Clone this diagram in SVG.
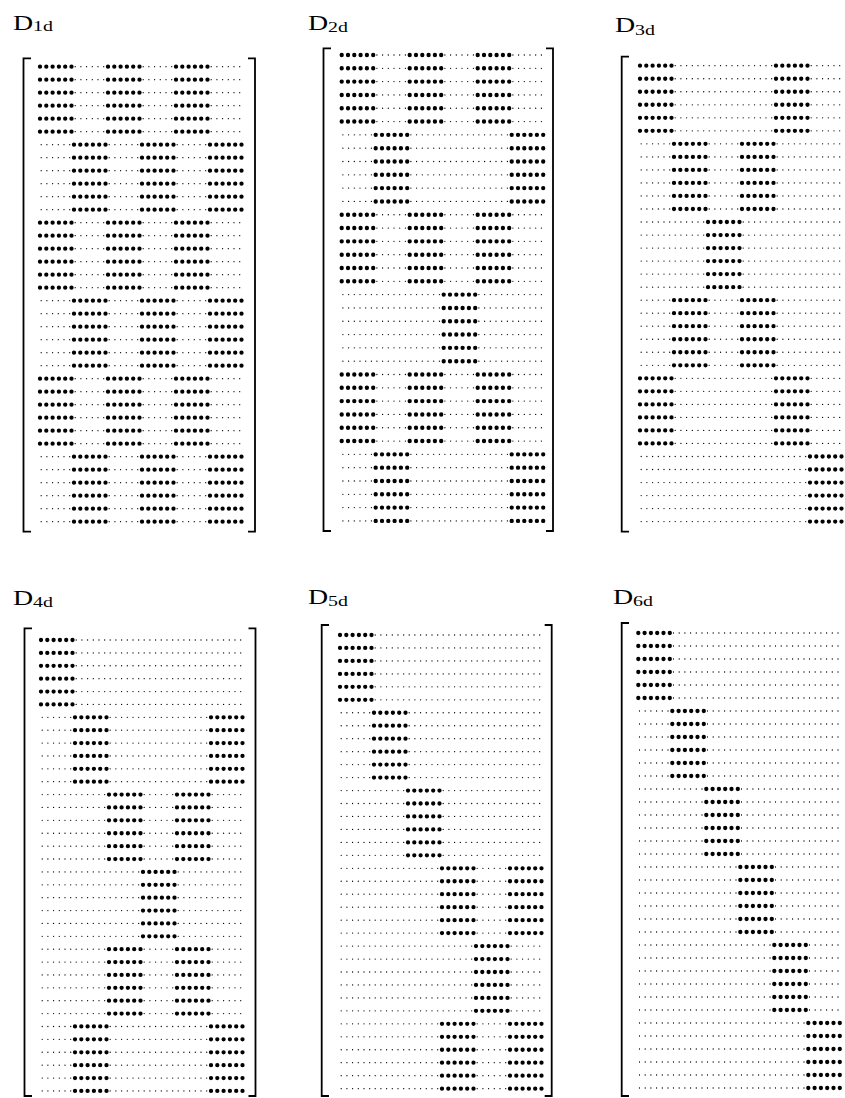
<svg xmlns="http://www.w3.org/2000/svg" width="845" height="1098" viewBox="0 0 845 1098">
<style>
.lbl{font-family:"Liberation Serif","Times New Roman",serif;font-size:21px;fill:#000}
.sub{font-size:15px}
.br{fill:none;stroke:#000;stroke-width:1.8}
</style>
<defs>
<path id="F" fill="none" stroke="#000" stroke-width="4.3" stroke-linecap="round" stroke-dasharray="0 6.3" d="M0 0h31.6M0 13h31.6M0 26h31.6M0 39h31.6M0 52h31.6M0 65h31.6"/>
<path id="S" fill="none" stroke="#000" stroke-width="1.3" stroke-linecap="round" stroke-dasharray="0 5.7" d="M1.2 0h28.6M1.2 13h28.6M1.2 26h28.6M1.2 39h28.6M1.2 52h28.6M1.2 65h28.6"/>
</defs>
<rect width="845" height="1098" fill="#fff"/>

<g id="D1d">
<text class="lbl" x="13" y="29.5" textLength="40" lengthAdjust="spacingAndGlyphs">D<tspan class="sub" dy="1.5">1d</tspan></text>
<path class="br" d="M31 58.3H23.5V531.7H31M248 58.3H255V531.7H248"/>
<g transform="translate(40 66.7)">
<use href="#F" x="0" y="0"/><use href="#S" x="34" y="0"/><use href="#F" x="68" y="0"/><use href="#S" x="102" y="0"/><use href="#F" x="136" y="0"/><use href="#S" x="170" y="0"/>
<use href="#S" x="0" y="78"/><use href="#F" x="34" y="78"/><use href="#S" x="68" y="78"/><use href="#F" x="102" y="78"/><use href="#S" x="136" y="78"/><use href="#F" x="170" y="78"/>
<use href="#F" x="0" y="156"/><use href="#S" x="34" y="156"/><use href="#F" x="68" y="156"/><use href="#S" x="102" y="156"/><use href="#F" x="136" y="156"/><use href="#S" x="170" y="156"/>
<use href="#S" x="0" y="234"/><use href="#F" x="34" y="234"/><use href="#S" x="68" y="234"/><use href="#F" x="102" y="234"/><use href="#S" x="136" y="234"/><use href="#F" x="170" y="234"/>
<use href="#F" x="0" y="312"/><use href="#S" x="34" y="312"/><use href="#F" x="68" y="312"/><use href="#S" x="102" y="312"/><use href="#F" x="136" y="312"/><use href="#S" x="170" y="312"/>
<use href="#S" x="0" y="390"/><use href="#F" x="34" y="390"/><use href="#S" x="68" y="390"/><use href="#F" x="102" y="390"/><use href="#S" x="136" y="390"/><use href="#F" x="170" y="390"/>
</g>
</g>

<g id="D2d">
<text class="lbl" x="308" y="30" textLength="40" lengthAdjust="spacingAndGlyphs">D<tspan class="sub" dy="2">2d</tspan></text>
<path class="br" d="M331 48.3H323.5V531H331M546 48.3H553V531H546"/>
<g transform="translate(341.7 55) scale(1 1.024)">
<use href="#F" x="0" y="0"/><use href="#S" x="34" y="0"/><use href="#F" x="68" y="0"/><use href="#S" x="102" y="0"/><use href="#F" x="136" y="0"/><use href="#S" x="170" y="0"/>
<use href="#S" x="0" y="78"/><use href="#F" x="34" y="78"/><use href="#S" x="68" y="78"/><use href="#S" x="102" y="78"/><use href="#S" x="136" y="78"/><use href="#F" x="170" y="78"/>
<use href="#F" x="0" y="156"/><use href="#S" x="34" y="156"/><use href="#F" x="68" y="156"/><use href="#S" x="102" y="156"/><use href="#F" x="136" y="156"/><use href="#S" x="170" y="156"/>
<use href="#S" x="0" y="234"/><use href="#S" x="34" y="234"/><use href="#S" x="68" y="234"/><use href="#F" x="102" y="234"/><use href="#S" x="136" y="234"/><use href="#S" x="170" y="234"/>
<use href="#F" x="0" y="312"/><use href="#S" x="34" y="312"/><use href="#F" x="68" y="312"/><use href="#S" x="102" y="312"/><use href="#F" x="136" y="312"/><use href="#S" x="170" y="312"/>
<use href="#S" x="0" y="390"/><use href="#F" x="34" y="390"/><use href="#S" x="68" y="390"/><use href="#S" x="102" y="390"/><use href="#S" x="136" y="390"/><use href="#F" x="170" y="390"/>
</g>
</g>

<g id="D3d">
<text class="lbl" x="615" y="31.5" textLength="40" lengthAdjust="spacingAndGlyphs">D<tspan class="sub" dy="3">3d</tspan></text>
<path class="br" d="M629 56.7H621.7V531.7H629"/>
<g transform="translate(640 65.7) scale(1 1.002)">
<use href="#F" x="0" y="0"/><use href="#S" x="34" y="0"/><use href="#S" x="68" y="0"/><use href="#S" x="102" y="0"/><use href="#F" x="136" y="0"/><use href="#S" x="170" y="0"/>
<use href="#S" x="0" y="78"/><use href="#F" x="34" y="78"/><use href="#S" x="68" y="78"/><use href="#F" x="102" y="78"/><use href="#S" x="136" y="78"/><use href="#S" x="170" y="78"/>
<use href="#S" x="0" y="156"/><use href="#S" x="34" y="156"/><use href="#F" x="68" y="156"/><use href="#S" x="102" y="156"/><use href="#S" x="136" y="156"/><use href="#S" x="170" y="156"/>
<use href="#S" x="0" y="234"/><use href="#F" x="34" y="234"/><use href="#S" x="68" y="234"/><use href="#F" x="102" y="234"/><use href="#S" x="136" y="234"/><use href="#S" x="170" y="234"/>
<use href="#F" x="0" y="312"/><use href="#S" x="34" y="312"/><use href="#S" x="68" y="312"/><use href="#S" x="102" y="312"/><use href="#F" x="136" y="312"/><use href="#S" x="170" y="312"/>
<use href="#S" x="0" y="390"/><use href="#S" x="34" y="390"/><use href="#S" x="68" y="390"/><use href="#S" x="102" y="390"/><use href="#S" x="136" y="390"/><use href="#F" x="170" y="390"/>
</g>
</g>

<g id="D4d">
<text class="lbl" x="13" y="605" textLength="40" lengthAdjust="spacingAndGlyphs">D<tspan class="sub" dy="1.5">4d</tspan></text>
<path class="br" d="M32 628.3H24.5V1096H32M248.5 628.3H255.5V1096H248.5"/>
<g transform="translate(41 640) scale(1 0.991)">
<use href="#F" x="0" y="0"/><use href="#S" x="34" y="0"/><use href="#S" x="68" y="0"/><use href="#S" x="102" y="0"/><use href="#S" x="136" y="0"/><use href="#S" x="170" y="0"/>
<use href="#S" x="0" y="78"/><use href="#F" x="34" y="78"/><use href="#S" x="68" y="78"/><use href="#S" x="102" y="78"/><use href="#S" x="136" y="78"/><use href="#F" x="170" y="78"/>
<use href="#S" x="0" y="156"/><use href="#S" x="34" y="156"/><use href="#F" x="68" y="156"/><use href="#S" x="102" y="156"/><use href="#F" x="136" y="156"/><use href="#S" x="170" y="156"/>
<use href="#S" x="0" y="234"/><use href="#S" x="34" y="234"/><use href="#S" x="68" y="234"/><use href="#F" x="102" y="234"/><use href="#S" x="136" y="234"/><use href="#S" x="170" y="234"/>
<use href="#S" x="0" y="312"/><use href="#S" x="34" y="312"/><use href="#F" x="68" y="312"/><use href="#S" x="102" y="312"/><use href="#F" x="136" y="312"/><use href="#S" x="170" y="312"/>
<use href="#S" x="0" y="390"/><use href="#F" x="34" y="390"/><use href="#S" x="68" y="390"/><use href="#S" x="102" y="390"/><use href="#S" x="136" y="390"/><use href="#F" x="170" y="390"/>
</g>
</g>

<g id="D5d">
<text class="lbl" x="308" y="604" textLength="40" lengthAdjust="spacingAndGlyphs">D<tspan class="sub" dy="2">5d</tspan></text>
<path class="br" d="M329 625H321.7V1096H329M544.7 625H551.7V1096H544.7"/>
<g transform="translate(340 635) scale(1 0.997)">
<use href="#F" x="0" y="0"/><use href="#S" x="34" y="0"/><use href="#S" x="68" y="0"/><use href="#S" x="102" y="0"/><use href="#S" x="136" y="0"/><use href="#S" x="170" y="0"/>
<use href="#S" x="0" y="78"/><use href="#F" x="34" y="78"/><use href="#S" x="68" y="78"/><use href="#S" x="102" y="78"/><use href="#S" x="136" y="78"/><use href="#S" x="170" y="78"/>
<use href="#S" x="0" y="156"/><use href="#S" x="34" y="156"/><use href="#F" x="68" y="156"/><use href="#S" x="102" y="156"/><use href="#S" x="136" y="156"/><use href="#S" x="170" y="156"/>
<use href="#S" x="0" y="234"/><use href="#S" x="34" y="234"/><use href="#S" x="68" y="234"/><use href="#F" x="102" y="234"/><use href="#S" x="136" y="234"/><use href="#F" x="170" y="234"/>
<use href="#S" x="0" y="312"/><use href="#S" x="34" y="312"/><use href="#S" x="68" y="312"/><use href="#S" x="102" y="312"/><use href="#F" x="136" y="312"/><use href="#S" x="170" y="312"/>
<use href="#S" x="0" y="390"/><use href="#S" x="34" y="390"/><use href="#S" x="68" y="390"/><use href="#F" x="102" y="390"/><use href="#S" x="136" y="390"/><use href="#F" x="170" y="390"/>
</g>
</g>

<g id="D6d">
<text class="lbl" x="613" y="604" textLength="40" lengthAdjust="spacingAndGlyphs">D<tspan class="sub" dy="2">6d</tspan></text>
<path class="br" d="M629 623H621.7V1096H629"/>
<g transform="translate(638.3 633) scale(1 1.0)">
<use href="#F" x="0" y="0"/><use href="#S" x="34" y="0"/><use href="#S" x="68" y="0"/><use href="#S" x="102" y="0"/><use href="#S" x="136" y="0"/><use href="#S" x="170" y="0"/>
<use href="#S" x="0" y="78"/><use href="#F" x="34" y="78"/><use href="#S" x="68" y="78"/><use href="#S" x="102" y="78"/><use href="#S" x="136" y="78"/><use href="#S" x="170" y="78"/>
<use href="#S" x="0" y="156"/><use href="#S" x="34" y="156"/><use href="#F" x="68" y="156"/><use href="#S" x="102" y="156"/><use href="#S" x="136" y="156"/><use href="#S" x="170" y="156"/>
<use href="#S" x="0" y="234"/><use href="#S" x="34" y="234"/><use href="#S" x="68" y="234"/><use href="#F" x="102" y="234"/><use href="#S" x="136" y="234"/><use href="#S" x="170" y="234"/>
<use href="#S" x="0" y="312"/><use href="#S" x="34" y="312"/><use href="#S" x="68" y="312"/><use href="#S" x="102" y="312"/><use href="#F" x="136" y="312"/><use href="#S" x="170" y="312"/>
<use href="#S" x="0" y="390"/><use href="#S" x="34" y="390"/><use href="#S" x="68" y="390"/><use href="#S" x="102" y="390"/><use href="#S" x="136" y="390"/><use href="#F" x="170" y="390"/>
</g>
</g>
</svg>
